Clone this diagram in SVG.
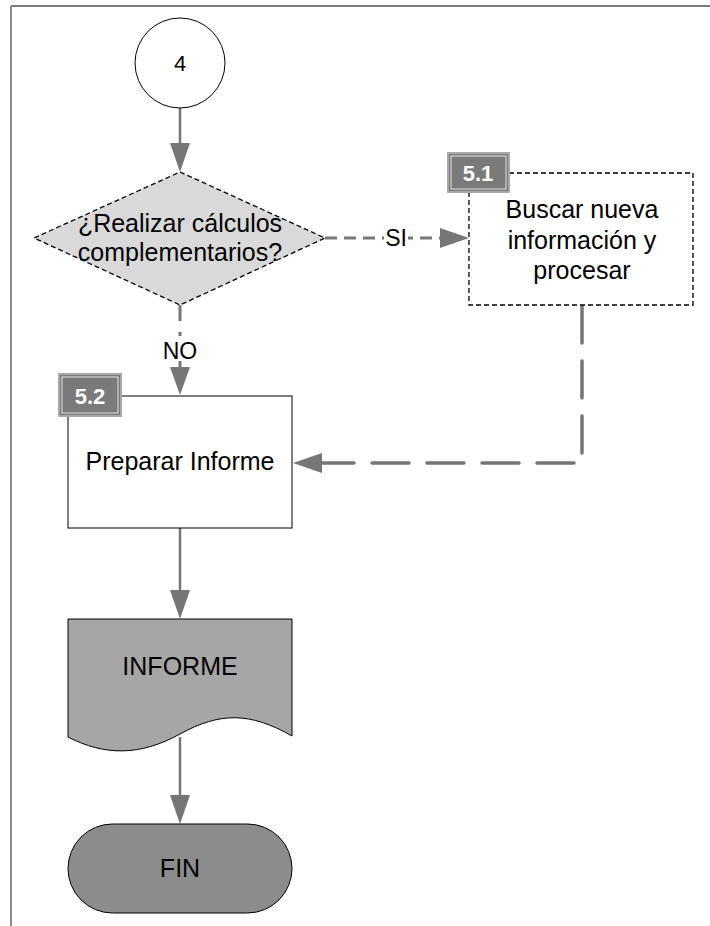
<svg xmlns="http://www.w3.org/2000/svg" width="710" height="926" viewBox="0 0 710 926">
<defs>
<style>
.t{font-family:"Liberation Sans",Arial,sans-serif;font-size:25px;fill:#000;text-anchor:middle}
.b{font-family:"Liberation Sans",Arial,sans-serif;font-size:22px;font-weight:bold;fill:#fff;text-anchor:middle}
.solid{stroke:#767676;stroke-width:2.5;fill:none}
.dash{stroke:#767676;stroke-width:3;fill:none;stroke-dasharray:12 7}
.dash2{stroke:#767676;stroke-width:3.5;fill:none;stroke-dasharray:37 18;stroke-linecap:round}
.ah{fill:#767676}
.badge{fill:#7a7a7a;stroke:#a8a8a8;stroke-width:2}
</style>
</defs>
<rect width="710" height="926" fill="#fff"/>
<g id="frame">
<line x1="11" y1="6" x2="710" y2="6" stroke="#7a7a7a" stroke-width="2"/>
<line x1="11" y1="6" x2="11" y2="926" stroke="#8a8a8a" stroke-width="2"/>
</g>
<g id="connectors">
<line class="solid" x1="180" y1="108" x2="180" y2="145"/>
<polygon class="ah" points="170,143 190,143 180,172"/>
<line class="dash" x1="325" y1="238" x2="440" y2="238"/>
<rect x="384" y="224" width="24" height="26" fill="#fff"/>
<text class="t" x="396" y="246" style="font-size:23px">SI</text>
<polygon class="ah" points="440,228 440,248 469,238"/>
<line class="dash" x1="180" y1="305" x2="180" y2="367" style="stroke-dasharray:16 11"/>
<rect x="160" y="336" width="40" height="25" fill="#fff"/>
<text class="t" x="180" y="359" style="font-size:23px">NO</text>
<polygon class="ah" points="170,367 190,367 180,395"/>
<path class="dash2" d="M582,306 V463 H322"/>
<polygon class="ah" points="322,453 322,473 293,463"/>
<line class="solid" x1="180" y1="528" x2="180" y2="592"/>
<polygon class="ah" points="170,590 190,590 180,619"/>
<line class="solid" x1="180" y1="737" x2="180" y2="797"/>
<polygon class="ah" points="170,795 190,795 180,824"/>
</g>
<g id="n4">
<ellipse cx="180" cy="63" rx="45" ry="45" fill="#fff" stroke="#000" stroke-width="1"/>
<text class="t" x="180" y="71" style="font-size:22px">4</text>
</g>
<g id="decision">
<polygon points="180,172 325,238 180,305 34,238" fill="#d9d9d9" stroke="#000" stroke-width="1.3" stroke-dasharray="5 3"/>
<text class="t" x="180" y="232">¿Realizar cálculos</text>
<text class="t" x="180" y="261">complementarios?</text>
</g>
<g id="p51">
<rect x="469" y="173" width="224" height="132" fill="#fff" stroke="#000" stroke-width="1.3" stroke-dasharray="5 3"/>
<rect class="badge" x="448" y="153" width="61" height="39"/>
<rect x="451" y="156" width="55" height="33" fill="none" stroke="#fff" stroke-width="0.8"/>
<text class="b" x="478" y="181">5.1</text>
<text class="t" x="582" y="218">Buscar nueva</text>
<text class="t" x="582" y="249">información y</text>
<text class="t" x="582" y="279">procesar</text>
</g>
<g id="p52">
<rect x="68" y="396" width="224" height="132" fill="#fff" stroke="#000" stroke-width="1"/>
<rect class="badge" x="59" y="374" width="62" height="42"/>
<rect x="62" y="377" width="56" height="36" fill="none" stroke="#fff" stroke-width="0.8"/>
<text class="b" x="90" y="404">5.2</text>
<text class="t" x="180" y="470">Preparar Informe</text>
</g>
<g id="informe">
<path d="M68,619 H292 V736 C250,712 220,712 180,734 C140,756 105,756 68,737 Z" fill="#a6a6a6" stroke="#000" stroke-width="1"/>
<text class="t" x="180" y="675">INFORME</text>
</g>
<g id="fin">
<rect x="68" y="824" width="224" height="89" rx="44.5" ry="44.5" fill="#8c8c8c" stroke="#000" stroke-width="1"/>
<text class="t" x="180" y="877">FIN</text>
</g>
</svg>
